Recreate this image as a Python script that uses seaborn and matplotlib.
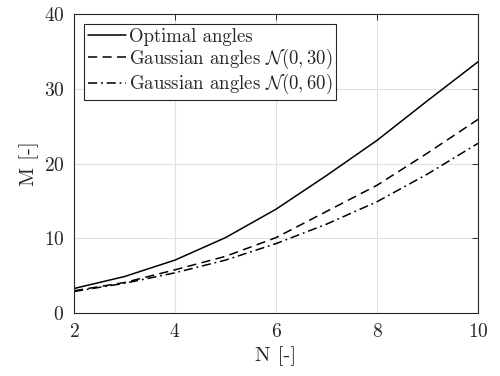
import numpy as np
import pandas as pd
import matplotlib
matplotlib.use("Agg")
import matplotlib.pyplot as plt
import seaborn as sns

N = [2, 3, 4, 5, 6, 7, 8, 9, 10]
optimal = [3.3, 4.9, 7.1, 10.1, 13.9, 18.4, 23.1, 28.4, 33.6]
gauss30 = [3.0, 4.1, 5.8, 7.6, 10.1, 13.6, 17.1, 21.4, 25.9]
gauss60 = [2.9, 4.0, 5.4, 7.1, 9.3, 11.9, 14.9, 18.6, 22.7]
labels = ["Optimal angles", r"Gaussian angles $\mathcal{N}(0,30)$", r"Gaussian angles $\mathcal{N}(0,60)$"]

df = pd.DataFrame({
    "N": N * 3,
    "M": optimal + gauss30 + gauss60,
    "series": [labels[0]] * len(N) + [labels[1]] * len(N) + [labels[2]] * len(N),
})

sns.set_theme(style="white")
plt.rcParams["font.family"] = "serif"
plt.rcParams["font.serif"] = ["cmr10"]
plt.rcParams["mathtext.fontset"] = "cm"
plt.rcParams["axes.formatter.use_mathtext"] = True

fig = plt.figure(figsize=(5.0, 3.76), dpi=100)
ax = fig.add_axes([0.148, 0.167, 0.808, 0.796])

styles = ["-", (0, (6, 3.5)), (0, (6, 2.5, 1.2, 2.5))]
for lab, ls in zip(labels, styles):
    sub = df[df["series"] == lab]
    sns.lineplot(data=sub, x="N", y="M", ax=ax, color="black", lw=1.1, label=lab, linestyle=ls)

ax.set_xlim(2, 10)
ax.set_ylim(0, 40)
ax.set_xticks([2, 4, 6, 8, 10])
ax.set_yticks([0, 10, 20, 30, 40])
ax.grid(True, color="#e0e0e0", lw=0.8)
ax.tick_params(direction="in", length=4, width=0.7, top=True, right=True, labelsize=14,
               colors="#262626", pad=7)
for s in ax.spines.values():
    s.set_color("#262626")
    s.set_linewidth(0.8)
ax.set_xlabel("N [-]", fontsize=15, labelpad=4, color="#262626")
ax.set_ylabel("M [-]", fontsize=15, labelpad=3, color="#262626")
leg = ax.legend(loc="upper left", fontsize=13.5, frameon=True, fancybox=False, edgecolor="#262626",
                framealpha=1, handlelength=2.0, handletextpad=0.2, borderpad=0.2, labelspacing=0.05,
                borderaxespad=0.55)
leg.get_frame().set_linewidth(0.8)
fig.savefig("out.png", dpi=100)
